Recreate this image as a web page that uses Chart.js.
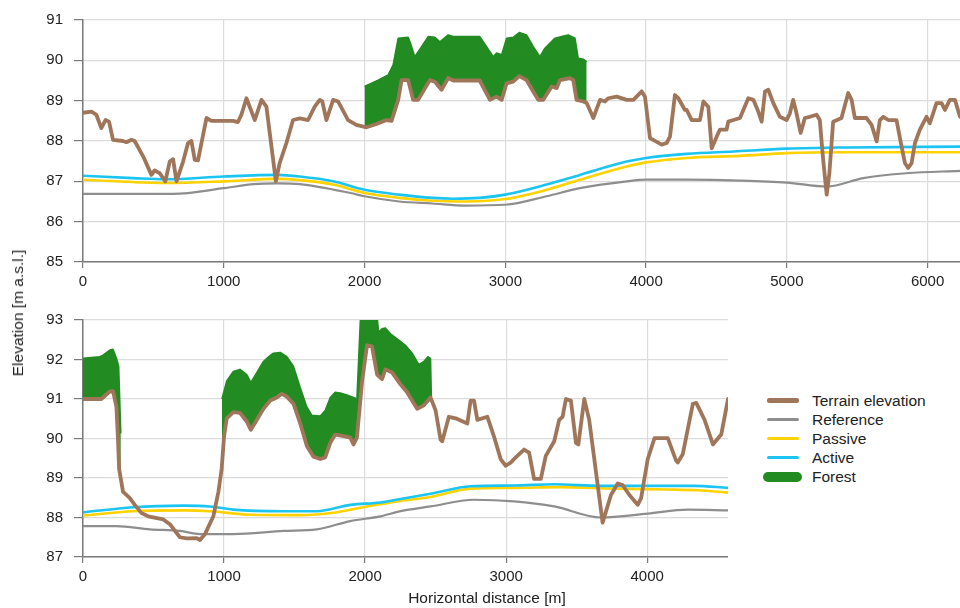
<!DOCTYPE html>
<html>
<head>
<meta charset="utf-8">
<script src="https://cdn.jsdelivr.net/npm/chart.js@4"></script>
<style>
  body { margin: 0; background: #fff; font-family: 'Liberation Sans', Arial, sans-serif; color: #222; }
  #wrap { position: relative; width: 960px; height: 608px; overflow: hidden; }
  canvas { position: absolute; left: 0; }
  #topChart { top: 0; }
  #bottomChart { top: 300px; }
  #yTitle { position: absolute; left: 18px; top: 313px; transform: translate(-50%, -50%) rotate(-90deg); font-size: 15.5px; white-space: nowrap; }
  #xTitle { position: absolute; left: 487px; top: 598px; transform: translate(-50%, -50%); font-size: 15.5px; white-space: nowrap; }
  #legend { position: absolute; left: 763px; top: 391px; font-size: 15.5px; }
  .row { height: 19px; display: flex; align-items: center; }
  .sw { width: 32px; margin: 0 13px 0 4px; border-radius: 2px; }
</style>
</head>
<body>
<div id="wrap">
  <canvas id="topChart" width="960" height="300"></canvas>
  <canvas id="bottomChart" width="728" height="308"></canvas>
  <div id="yTitle">Elevation [m a.s.l.]</div>
  <div id="xTitle">Horizontal distance [m]</div>
  <div id="legend"></div>
</div>
<script>
// upper profile
const topXTicks = [0, 1000, 2000, 3000, 4000, 5000, 6000];
const topTerrainX = [0, 60, 95, 130, 160, 185, 213, 284, 308, 344, 367, 427, 486, 509, 545, 585, 616, 640, 664, 711, 746, 770, 794, 817, 877, 912, 1066, 1101, 1125, 1161, 1220, 1268, 1303, 1370, 1397, 1445, 1492, 1540, 1599, 1646, 1682, 1700, 1729, 1777, 1812, 1883, 1942, 2014, 2085, 2156, 2192, 2239, 2263, 2310, 2345, 2381, 2464, 2500, 2547, 2594, 2630, 2818, 2891, 2938, 2974, 3009, 3056, 3099, 3151, 3199, 3234, 3270, 3329, 3365, 3388, 3459, 3483, 3506, 3554, 3578, 3625, 3673, 3708, 3732, 3791, 3862, 3910, 3969, 3992, 4028, 4111, 4146, 4170, 4205, 4229, 4276, 4288, 4324, 4383, 4407, 4442, 4466, 4513, 4525, 4572, 4584, 4620, 4667, 4726, 4762, 4797, 4821, 4845, 4868, 4904, 4951, 4998, 5021, 5045, 5069, 5098, 5128, 5163, 5211, 5234, 5258, 5283, 5302, 5329, 5388, 5436, 5460, 5483, 5566, 5602, 5638, 5661, 5685, 5720, 5779, 5815, 5839, 5862, 5886, 5910, 5945, 5992, 6016, 6063, 6099, 6123, 6158, 6194, 6230];
const topTerrainY = [88.70, 88.73, 88.65, 88.32, 88.52, 88.48, 88.03, 88.00, 87.97, 88.03, 88.00, 87.62, 87.16, 87.27, 87.20, 87.00, 87.49, 87.55, 87.00, 87.49, 87.95, 88.00, 87.53, 87.52, 88.57, 88.50, 88.50, 88.47, 88.65, 89.06, 88.52, 89.02, 88.85, 87.00, 87.45, 87.95, 88.52, 88.56, 88.52, 88.85, 89.02, 88.98, 88.52, 89.02, 88.98, 88.52, 88.40, 88.34, 88.42, 88.52, 88.50, 89.02, 89.51, 89.51, 89.02, 89.02, 89.51, 89.47, 89.27, 89.56, 89.50, 89.50, 89.02, 89.10, 89.02, 89.43, 89.47, 89.61, 89.51, 89.22, 89.02, 89.02, 89.35, 89.31, 89.51, 89.56, 89.51, 89.02, 88.98, 88.94, 88.57, 89.02, 88.98, 89.06, 89.10, 89.02, 89.02, 89.23, 89.10, 88.07, 87.91, 87.95, 88.11, 89.14, 89.06, 88.77, 88.77, 88.52, 88.52, 88.98, 88.85, 87.82, 88.20, 88.28, 88.28, 88.48, 88.52, 88.57, 89.06, 89.02, 88.73, 88.48, 89.23, 89.27, 88.94, 88.60, 88.52, 88.68, 89.02, 88.68, 88.20, 88.57, 88.60, 88.65, 88.52, 87.53, 86.67, 87.20, 88.48, 88.57, 89.19, 89.02, 88.57, 88.57, 88.40, 87.99, 88.52, 88.60, 88.52, 88.52, 87.86, 87.45, 87.33, 87.45, 87.95, 88.28, 88.60, 88.44, 88.94, 88.94, 88.77, 89.02, 89.02, 88.60];
const topForestX = [2000, 2096, 2168, 2203, 2239, 2310, 2326, 2357, 2405, 2452, 2500, 2535, 2594, 2630, 2818, 2867, 2914, 2938, 2974, 3009, 3056, 3099, 3151, 3199, 3246, 3281, 3353, 3400, 3447, 3495, 3518, 3554, 3578];
const topForestY = [89.35, 89.51, 89.64, 89.89, 90.55, 90.57, 90.43, 90.09, 90.34, 90.59, 90.57, 90.46, 90.63, 90.59, 90.59, 90.34, 90.09, 90.18, 90.14, 90.55, 90.57, 90.69, 90.63, 90.34, 90.09, 90.30, 90.55, 90.59, 90.63, 90.55, 90.05, 90.03, 89.97];
const topRefX = [0, 640, 1000, 1214, 1380, 1540, 1900, 2000, 2246, 2482, 2720, 3000, 3293, 3530, 3862, 4000, 4288, 4667, 5000, 5283, 5543, 5850, 6230];
const topRefY = [86.69, 86.69, 86.83, 86.93, 86.95, 86.93, 86.71, 86.63, 86.50, 86.45, 86.40, 86.42, 86.63, 86.83, 87.00, 87.04, 87.04, 87.02, 86.97, 86.87, 87.08, 87.20, 87.26];
const topActiveX = [0, 355, 592, 1000, 1380, 1540, 1777, 2000, 2246, 2482, 2630, 2818, 3000, 3293, 3530, 3862, 4000, 4288, 4620, 5000, 5425, 6230];
const topActiveY = [87.14, 87.08, 87.05, 87.12, 87.16, 87.12, 87.00, 86.79, 86.67, 86.59, 86.57, 86.59, 86.67, 86.92, 87.16, 87.49, 87.58, 87.68, 87.74, 87.81, 87.84, 87.86];
const topPassiveX = [0, 592, 1000, 1380, 1540, 1777, 2000, 2246, 2482, 2720, 3000, 3293, 3530, 3862, 4000, 4288, 4667, 5000, 5425, 6230];
const topPassiveY = [87.04, 86.96, 87.00, 87.06, 87.03, 86.92, 86.71, 86.59, 86.52, 86.50, 86.56, 86.79, 87.04, 87.37, 87.47, 87.58, 87.63, 87.70, 87.72, 87.72];

// lower profile
const botXTicks = [0, 1000, 2000, 3000, 4000];
const botTerrainX = [0, 130, 190, 213, 237, 249, 256, 284, 308, 332, 367, 415, 462, 569, 616, 652, 687, 735, 806, 830, 865, 924, 960, 983, 1000, 1019, 1066, 1113, 1161, 1190, 1232, 1279, 1327, 1374, 1410, 1445, 1492, 1540, 1587, 1634, 1682, 1717, 1753, 1788, 1847, 1895, 1918, 1942, 1979, 2014, 2049, 2085, 2120, 2144, 2192, 2251, 2298, 2369, 2417, 2464, 2500, 2535, 2547, 2594, 2642, 2725, 2748, 2772, 2796, 2867, 2914, 2961, 2997, 3032, 3068, 3127, 3163, 3198, 3246, 3281, 3341, 3376, 3400, 3424, 3459, 3495, 3512, 3554, 3589, 3637, 3684, 3743, 3791, 3826, 3874, 3933, 3957, 4004, 4052, 4099, 4146, 4205, 4217, 4252, 4324, 4348, 4407, 4466, 4513, 4525, 4573];
const botTerrainY = [91.00, 91.00, 91.19, 91.20, 90.80, 89.89, 89.23, 88.65, 88.57, 88.49, 88.32, 88.11, 88.03, 87.95, 87.83, 87.66, 87.50, 87.47, 87.48, 87.43, 87.58, 88.03, 88.65, 89.23, 90.05, 90.51, 90.67, 90.65, 90.43, 90.22, 90.47, 90.75, 90.96, 91.04, 91.13, 91.06, 90.88, 90.38, 89.81, 89.54, 89.48, 89.52, 89.89, 90.10, 90.06, 90.02, 89.85, 90.02, 91.46, 92.36, 92.33, 91.62, 91.50, 91.75, 91.67, 91.37, 91.17, 90.75, 90.84, 91.04, 90.71, 89.97, 89.93, 90.55, 90.51, 90.38, 90.96, 90.96, 90.47, 90.55, 90.05, 89.48, 89.31, 89.39, 89.52, 89.72, 89.64, 88.98, 88.98, 89.56, 89.93, 90.47, 90.55, 91.00, 90.96, 89.89, 89.85, 91.00, 90.47, 89.15, 87.87, 88.57, 88.86, 88.82, 88.57, 88.32, 88.49, 89.48, 90.01, 90.01, 90.01, 89.44, 89.39, 89.60, 90.88, 90.90, 90.47, 89.85, 90.05, 90.10, 91.00];
const botForestX = [0, 118, 142, 190, 213, 237, 253, 268, 600, 985, 1019, 1066, 1113, 1161, 1190, 1232, 1279, 1315, 1350, 1398, 1445, 1492, 1540, 1587, 1622, 1682, 1717, 1753, 1788, 1824, 1871, 1918, 1942, 1966, 1985, 2080, 2096, 2120, 2144, 2180, 2239, 2286, 2334, 2381, 2417, 2445, 2464, 2470];
const botForestY = [92.03, 92.07, 92.11, 92.24, 92.26, 92.03, 91.83, 90.13, null, 91.00, 91.46, 91.70, 91.75, 91.62, 91.42, 91.67, 91.95, 92.07, 92.16, 92.18, 92.07, 91.83, 91.29, 90.80, 90.59, 90.57, 90.71, 91.04, 91.17, 91.15, 91.10, 91.04, 91.00, 92.98, 93.30, 93.30, 92.69, 92.78, 92.80, 92.65, 92.49, 92.36, 92.16, 91.87, 91.95, 92.07, 92.03, 91.05];
const botRefX = [0, 237, 474, 687, 830, 1066, 1422, 1658, 1895, 2109, 2251, 2464, 2772, 3056, 3341, 3672, 4004, 4288, 4573];
const botRefY = [87.78, 87.78, 87.70, 87.66, 87.58, 87.58, 87.66, 87.70, 87.91, 88.03, 88.16, 88.28, 88.45, 88.41, 88.28, 88.00, 88.10, 88.20, 88.18];
const botActiveX = [0, 355, 711, 900, 1066, 1422, 1658, 1895, 2109, 2251, 2464, 2748, 3056, 3341, 3672, 4004, 4336, 4573];
const botActiveY = [88.13, 88.26, 88.30, 88.28, 88.20, 88.16, 88.16, 88.32, 88.38, 88.47, 88.60, 88.79, 88.81, 88.84, 88.80, 88.80, 88.80, 88.75];
const botPassiveX = [0, 355, 711, 900, 1185, 1540, 1777, 2014, 2251, 2464, 2748, 3056, 3388, 3767, 4146, 4360, 4573];
const botPassiveY = [88.05, 88.16, 88.18, 88.16, 88.07, 88.06, 88.12, 88.28, 88.42, 88.52, 88.73, 88.75, 88.77, 88.73, 88.71, 88.69, 88.63];

const seriesNames = ["Terrain elevation", "Reference", "Passive", "Active", "Forest"];
const colors = {
    terrain: "#a0765b",
    reference: "#8e8e8e",
    passive: "#ffd200",
    active: "#1cc4f2",
    forest: "#228b22"
};

Chart.defaults.font.family = "'Liberation Sans', Arial, sans-serif";
Chart.defaults.font.size = 15;
Chart.defaults.color = "#222";

function toPoints(xs, ys) {
    return xs.map((x, i) => ({ x: x, y: ys[i] }));
}

function makeDatasets(t) {
    return [
        { label: seriesNames[0], data: toPoints(t.terrainX, t.terrainY), borderColor: colors.terrain, borderWidth: 3.8,
          tension: 0, borderJoinStyle: "round", borderCapStyle: "round" },
        { label: seriesNames[3], data: toPoints(t.activeX, t.activeY), borderColor: colors.active, borderWidth: 2.6, cubicInterpolationMode: "monotone" },
        { label: seriesNames[2], data: toPoints(t.passiveX, t.passiveY), borderColor: colors.passive, borderWidth: 2.6, cubicInterpolationMode: "monotone" },
        { label: seriesNames[1], data: toPoints(t.refX, t.refY), borderColor: colors.reference, borderWidth: 2.2, cubicInterpolationMode: "monotone" },
        { label: seriesNames[4], data: toPoints(t.forestX, t.forestY), borderColor: colors.forest, borderWidth: 1.5,
          backgroundColor: colors.forest, fill: 0, spanGaps: false, tension: 0, borderJoinStyle: "round" }
    ];
}

function makeOptions(xMax, xTicks, yMin, yMax, padTop, xHeight) {
    return {
        responsive: false,
        animation: false,
        events: [],
        layout: { padding: { top: padTop, left: 0, right: 0, bottom: 0 } },
        elements: { point: { radius: 0 } },
        plugins: { legend: { display: false }, tooltip: { enabled: false } },
        scales: {
            x: {
                type: "linear",
                min: 0,
                max: xMax,
                grid: { color: "#dcdcdc", lineWidth: 1.2, tickLength: 6, tickColor: "#7a7a7a" },
                border: { color: "#7a7a7a", width: 1.5 },
                ticks: { maxRotation: 0, autoSkip: false, padding: 5, color: "#222", callback: v => String(v) },
                afterBuildTicks: s => { s.ticks = xTicks.map(v => ({ value: v })); },
                afterFit: s => { s.height = xHeight; }
            },
            y: {
                min: yMin,
                max: yMax,
                grid: { color: "#dcdcdc", lineWidth: 1.2, tickLength: 9, tickColor: "#7a7a7a" },
                border: { color: "#7a7a7a", width: 1.5 },
                ticks: { stepSize: 1, padding: 11, color: "#222" },
                afterFit: s => { s.width = 83; }
            }
        }
    };
}

new Chart(document.getElementById("topChart"), {
    type: "line",
    data: { datasets: makeDatasets({
        terrainX: topTerrainX, terrainY: topTerrainY,
        activeX: topActiveX, activeY: topActiveY,
        passiveX: topPassiveX, passiveY: topPassiveY,
        refX: topRefX, refY: topRefY,
        forestX: topForestX, forestY: topForestY
    }) },
    options: makeOptions(6230, topXTicks, 85, 91, 20, 38)
});

new Chart(document.getElementById("bottomChart"), {
    type: "line",
    data: { datasets: makeDatasets({
        terrainX: botTerrainX, terrainY: botTerrainY,
        activeX: botActiveX, activeY: botActiveY,
        passiveX: botPassiveX, passiveY: botPassiveY,
        refX: botRefX, refY: botRefY,
        forestX: botForestX, forestY: botForestY
    }) },
    options: makeOptions(4573, botXTicks, 87, 93, 14, 51)
});

// legend next to the lower chart
const legendItems = [
    [seriesNames[0], colors.terrain, 5],
    [seriesNames[1], colors.reference, 3],
    [seriesNames[2], colors.passive, 3],
    [seriesNames[3], colors.active, 3],
    [seriesNames[4], colors.forest, 10]
];
const legend = document.getElementById("legend");
legendItems.forEach(item => {
    const row = document.createElement("div");
    row.className = "row";
    const sw = document.createElement("span");
    sw.className = "sw";
    sw.style.height = item[2] + "px";
    sw.style.background = item[1];
    if (item[2] > 5) { sw.style.borderRadius = "5px"; sw.style.width = "39px"; sw.style.margin = "0 10px 0 0"; }
    const txt = document.createElement("span");
    txt.innerText = item[0];
    row.appendChild(sw);
    row.appendChild(txt);
    legend.appendChild(row);
});
</script>
</body>
</html>
